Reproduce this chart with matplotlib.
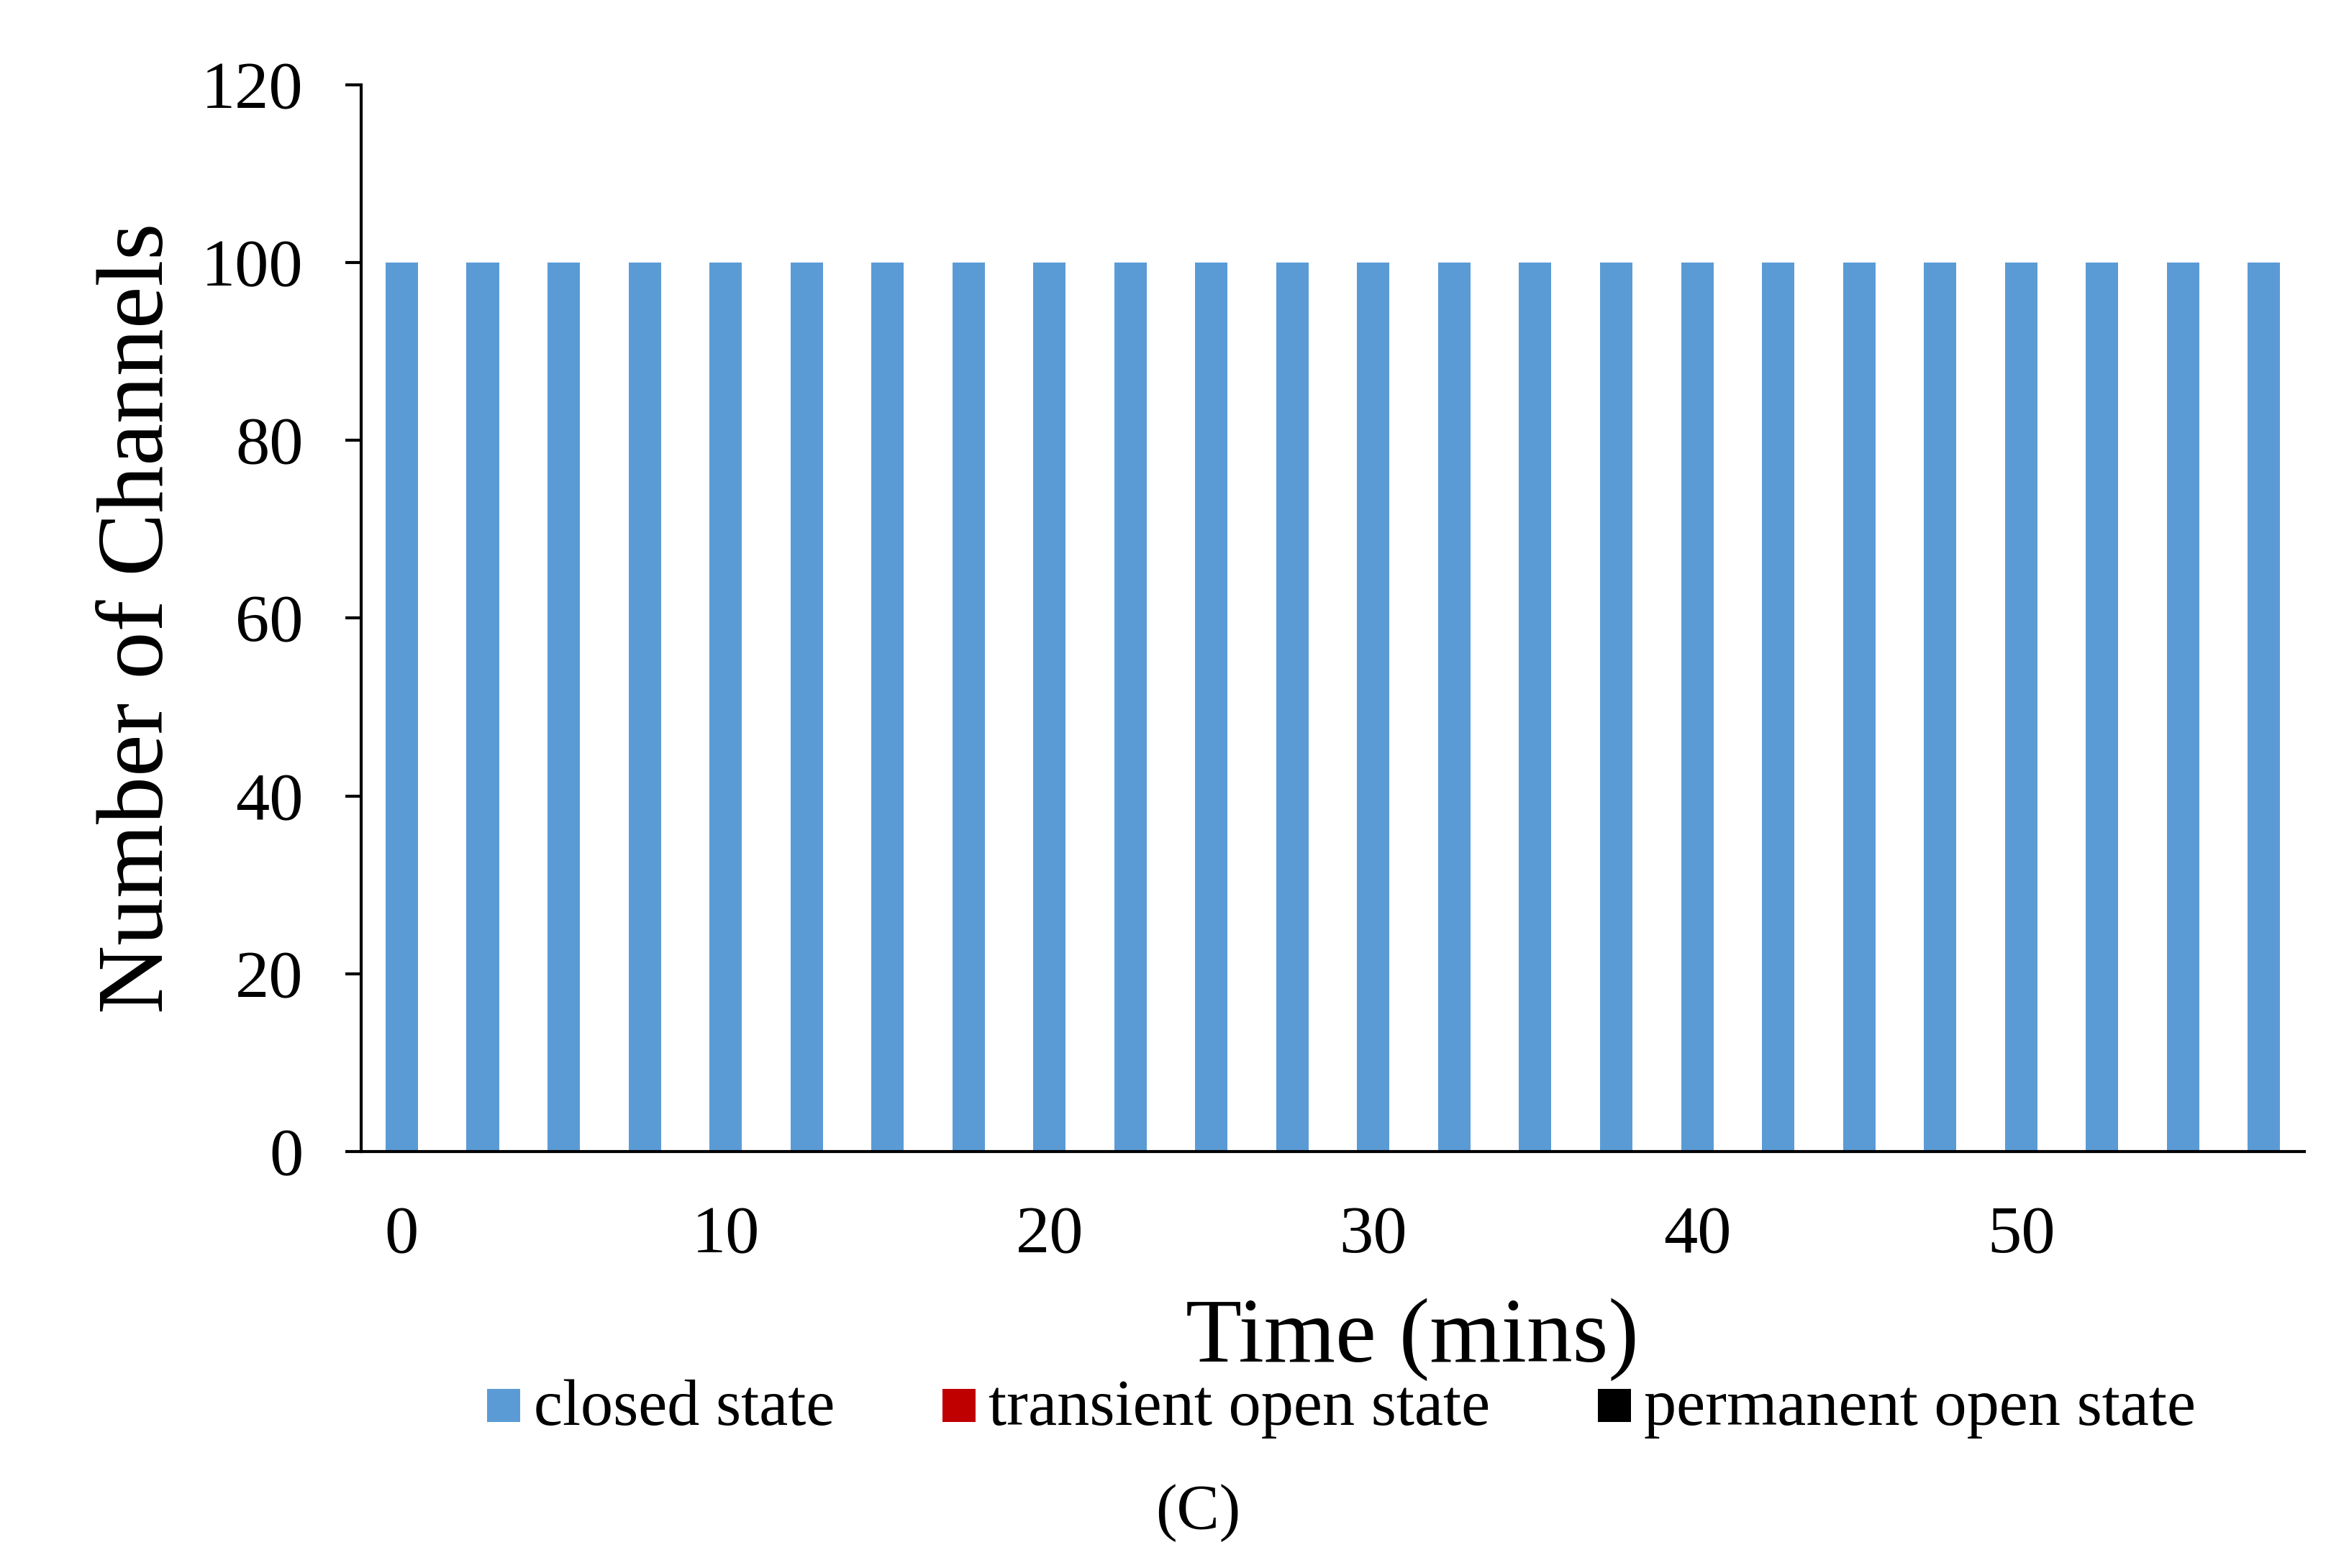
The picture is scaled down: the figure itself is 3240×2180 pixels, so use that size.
import matplotlib.pyplot as plt
from matplotlib.lines import Line2D
import numpy as np

plt.rcParams['font.family'] = ['Liberation Serif', 'DejaVu Serif']

# time points (mins) and number of channels per state
times = [0, 2.5, 5, 7.5, 10, 12.5, 15, 17.5, 20, 22.5, 25, 27.5,
         30, 32.5, 35, 37.5, 40, 42.5, 45, 47.5, 50, 52.5, 55, 57.5]
closed = [100, 100, 100, 100, 100, 100, 100, 100, 100, 100, 100, 100,
          100, 100, 100, 100, 100, 100, 100, 100, 100, 100, 100, 100]
transient = [0, 0, 0, 0, 0, 0, 0, 0, 0, 0, 0, 0,
             0, 0, 0, 0, 0, 0, 0, 0, 0, 0, 0, 0]
permanent = [0, 0, 0, 0, 0, 0, 0, 0, 0, 0, 0, 0,
             0, 0, 0, 0, 0, 0, 0, 0, 0, 0, 0, 0]
state_names = ['closed state', 'transient open state', 'permanent open state']
state_colors = ['#5B9BD5', '#C00000', '#000000']
label_every = 4

fig = plt.figure(figsize=(32.4, 21.8), dpi=100)
ax = fig.add_axes([0.155, 0.2656, 0.8336, 0.6804])

x = np.arange(len(times))
bottom = np.zeros(len(times))
for vals, name, col in zip([closed, transient, permanent], state_names, state_colors):
    ax.bar(x, vals, width=0.4, bottom=bottom, color=col, label=name)
    bottom += np.array(vals)

ax.set_xlim(-0.5, len(times) - 0.5)
ax.set_ylim(0, 120)
ax.set_yticks(range(0, 121, 20))
ax.set_xticks(x[::label_every])
ax.set_xticklabels([f'{t:g}' for t in times[::label_every]])

for s in ['top', 'right']:
    ax.spines[s].set_visible(False)
for s in ['left', 'bottom']:
    ax.spines[s].set_linewidth(3)

ax.tick_params(axis='y', direction='out', length=16, width=3, pad=42, labelsize=68)
ax.tick_params(axis='x', length=0, pad=54, labelsize=68)

ax.set_ylabel('Number of Channels', fontsize=95)
ax.yaxis.set_label_coords(-0.114, 0.5)
ax.yaxis.label.set_va('center')

ax.set_xlabel('Time (mins)', fontsize=92)
ax.xaxis.set_label_coords(0.541, -0.176)
ax.xaxis.label.set_va('center')

# square legend markers like Excel
handles = [Line2D([], [], linestyle='none', marker='s', markersize=33,
                  markeredgewidth=0, color=c, label=n)
           for n, c in zip(state_names, state_colors)]
fig.legend(handles=handles, loc='center left', bbox_to_anchor=(0.2095, 0.1014),
           ncol=3, frameon=False, fontsize=65, handlelength=0.48, handleheight=0.367,
           handletextpad=0.22, columnspacing=1.67, borderpad=0, borderaxespad=0)

fig.text(0.514, 0.0353, '(C)', ha='center', va='center', fontsize=64)

fig.savefig('out.png', dpi=100)
